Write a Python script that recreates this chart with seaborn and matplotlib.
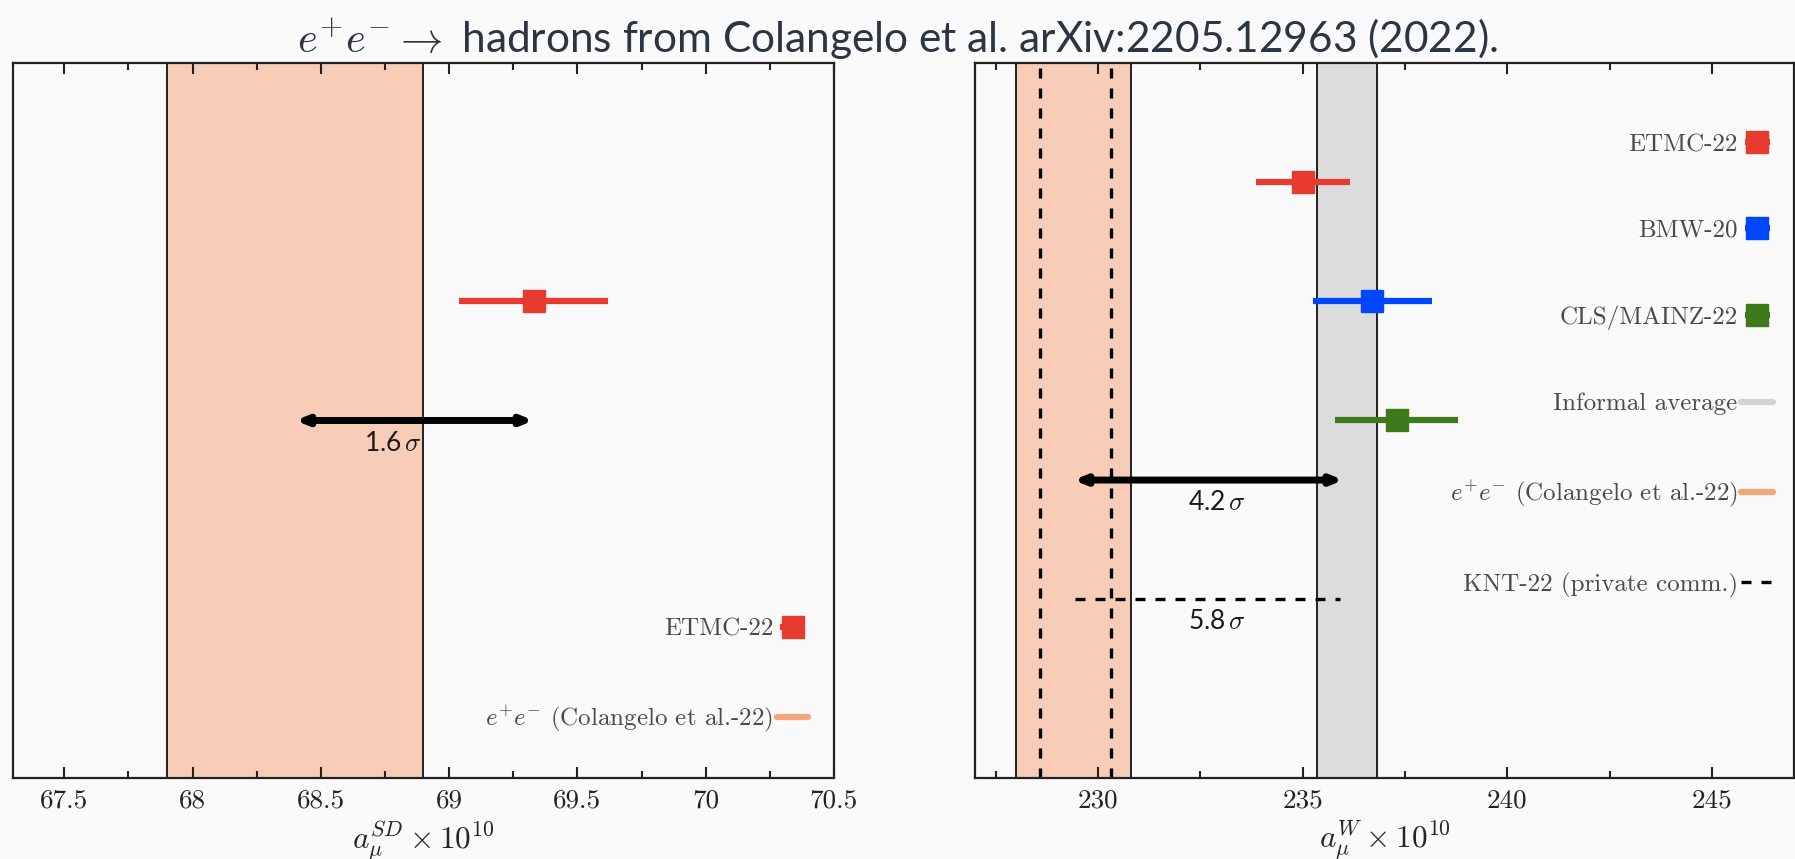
"""e+e- -> hadrons vs lattice: short-distance and window contributions"""
import matplotlib
matplotlib.use("Agg")
import matplotlib.pyplot as plt
from matplotlib.ticker import MultipleLocator, FuncFormatter
import seaborn as sns

# ---- data ----
# short-distance window a_mu^SD x 10^10
sd_labels = ["ETMC-22"]
sd_values = [69.33]
sd_errors = [0.29]
sd_ypos = [4.0]
sd_colors = ["#e63b2e"]
sd_ee_center = 68.40      # e+e- (Colangelo et al.-22)
sd_ee_error = 0.50
sd_sigma_text = "1.6"
sd_xlim = (67.30, 70.50)

# intermediate window a_mu^W x 10^10
w_labels = ["ETMC-22", "BMW-20", "CLS/MAINZ-22"]
w_values = [235.0, 236.7, 237.3]
w_errors = [1.15, 1.45, 1.50]
w_ypos = [5.0, 4.0, 3.0]
w_colors = ["#e63b2e", "#0046ff", "#3d7a1c"]
w_ee_center = 229.40
w_ee_error = 1.40
w_knt_center = 229.45     # KNT-22 (private comm.)
w_knt_error = 0.87
w_avg_center = 236.08     # informal average
w_avg_error = 0.73
w_sigma_texts = ["4.2", "5.8"]
w_xlim = (227.0, 247.0)

TITLE = r"$e^{+}e^{-}\rightarrow$ hadrons from Colangelo et al. arXiv:2205.12963 (2022)."

BG = "#fafafa"
BAND_ORANGE = "#f7cdb7"
LINE_ORANGE = "#f4a57a"
BAND_GREY = "#dcdcdc"
LINE_GREY = "#d3d3d3"
TEXT_GREY = "#4a4a4a"


def _style_axis(ax, xlim, major, minor, xlabel):
    ax.set_facecolor(BG)
    ax.set_xlim(*xlim)
    ax.set_ylim(0, 6)
    ax.set_yticks([])
    ax.xaxis.set_major_locator(MultipleLocator(major))
    ax.xaxis.set_minor_locator(MultipleLocator(minor))
    ax.xaxis.set_major_formatter(FuncFormatter(lambda v, p: f"{v:g}"))
    ax.tick_params(axis="x", which="both", direction="in", top=True, bottom=True,
                   labelsize=19.5, colors="#222222", pad=8)
    ax.tick_params(axis="x", which="major", length=8, width=1.5)
    ax.tick_params(axis="x", which="minor", length=5, width=1.5)
    for sp in ax.spines.values():
        sp.set_visible(True)
        sp.set_color("#222222")
        sp.set_linewidth(1.6)
    ax.set_xlabel(xlabel, fontsize=22.5, labelpad=4)
    ax.grid(False)


def _band(ax, center, err, color):
    ax.axvspan(center - err, center + err, color=color, zorder=0, lw=0)
    for x in (center - err, center + err):
        ax.axvline(x, color="#111111", lw=1.3, zorder=1)


def _arrow(ax, x0, x1, y):
    ax.annotate("", xy=(x1, y), xytext=(x0, y),
                arrowprops=dict(arrowstyle="<|-|>,head_length=0.3,head_width=0.12",
                                lw=5, color="black", shrinkA=0, shrinkB=0,
                                mutation_scale=20), zorder=5)


def _sigma(ax, x, y, txt):
    ax.text(x, y, txt + r"$\,\sigma$", ha="center", va="center", fontsize=19,
            family=["Lato", "DejaVu Sans"], color="#1a1a1a", zorder=6)


def _legend(ax, handles, loc, anchor):
    leg = ax.legend(handles=handles, loc=loc, bbox_to_anchor=anchor,
                    frameon=False, markerfirst=False, fontsize=18,
                    labelspacing=2.53, handlelength=1.25, handletextpad=0.15,
                    borderaxespad=0.0)
    for t in leg.get_texts():
        t.set_color(TEXT_GREY)
    return leg


def draw():
    sns.set_theme(style="ticks")
    plt.rcParams["font.family"] = ["cmr10", "DejaVu Sans"]
    plt.rcParams["mathtext.fontset"] = "cm"
    plt.rcParams["axes.formatter.use_mathtext"] = True
    plt.rcParams["axes.unicode_minus"] = False

    fig = plt.figure(figsize=(17.95, 8.59), dpi=100, facecolor=BG)
    ax1 = fig.add_axes([0.0072, 0.0943, 0.4574, 0.8324])
    ax2 = fig.add_axes([0.5432, 0.0943, 0.4563, 0.8324])

    # ---- left: short distance ----
    _style_axis(ax1, sd_xlim, 0.5, 0.25, r"$a_\mu^{SD}\times 10^{10}$")
    _band(ax1, sd_ee_center, sd_ee_error, BAND_ORANGE)
    handles = []
    for lab, v, e, y, c in zip(sd_labels, sd_values, sd_errors, sd_ypos, sd_colors):
        h = ax1.errorbar(v, y, xerr=e, fmt="s", color=c, ms=16, elinewidth=4.5,
                         capsize=0, label=lab, zorder=4)
        handles.append(h)
    _arrow(ax1, sd_ee_center, sd_values[0], 3.0)
    _sigma(ax1, 68.78, 2.81, sd_sigma_text)
    ee1, = ax1.plot([], [], color=LINE_ORANGE, lw=4.5,
                    label=r"$e^{+}e^{-}$ (Colangelo et al.-22)")
    handles.append(ee1)
    _legend(ax1, handles, "lower right", (0.981, 0.047))

    # ---- right: intermediate window ----
    _style_axis(ax2, w_xlim, 5, 2.5, r"$a_\mu^{W}\times 10^{10}$")
    _band(ax2, w_ee_center, w_ee_error, BAND_ORANGE)
    _band(ax2, w_avg_center, w_avg_error, BAND_GREY)
    for x in (w_knt_center - w_knt_error, w_knt_center + w_knt_error):
        ax2.axvline(x, color="black", lw=2.4, ls=(0, (3, 3)), zorder=2)
    handles = []
    for lab, v, e, y, c in zip(w_labels, w_values, w_errors, w_ypos, w_colors):
        h = ax2.errorbar(v, y, xerr=e, fmt="s", color=c, ms=16, elinewidth=4.5,
                         capsize=0, label=lab, zorder=4)
        handles.append(h)
    _arrow(ax2, w_ee_center, 236.0, 2.5)
    _sigma(ax2, 232.9, 2.31, w_sigma_texts[0])
    ax2.plot([w_knt_center, 235.9], [1.5, 1.5], color="black", lw=2.4,
             ls=(0, (3, 3)), zorder=3)
    _sigma(ax2, 232.9, 1.31, w_sigma_texts[1])
    avg, = ax2.plot([], [], color=LINE_GREY, lw=4.5, label="Informal average")
    ee2, = ax2.plot([], [], color=LINE_ORANGE, lw=4.5,
                    label=r"$e^{+}e^{-}$ (Colangelo et al.-22)")
    knt, = ax2.plot([], [], color="black", lw=2.4, ls=(0, (3, 3)),
                    label="KNT-22 (private comm.)")
    handles += [avg, ee2, knt]
    _legend(ax2, handles, "upper right", (0.986, 0.915))

    fig.text(0.5, 0.94, TITLE, ha="center", va="baseline", fontsize=30.5,
             family=["Lato", "DejaVu Sans"], color="#2b3642")

    fig.savefig("out.png", dpi=100, facecolor=BG)
    plt.close(fig)


if __name__ == "__main__":
    draw()
